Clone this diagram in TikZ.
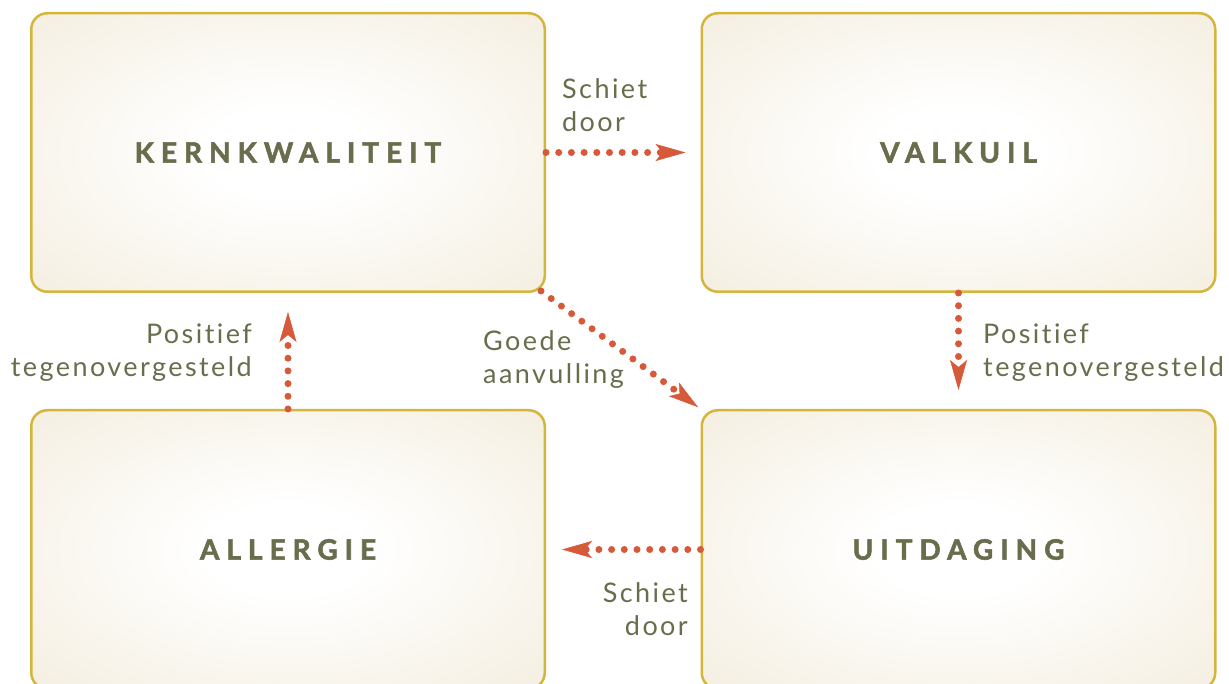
\documentclass[tikz,border=0pt]{standalone}
\usepackage{fontspec}
\setmainfont{Lato}
\newfontfamily\titlefont[LetterSpace=25,FakeBold=2,Ligatures=NoCommon]{Lato}
\newfontfamily\labelfont[LetterSpace=9,Ligatures=NoCommon]{Lato}
\usetikzlibrary{arrows.meta}
\definecolor{bordercol}{HTML}{D4B63C}
\definecolor{fillcol}{HTML}{F3ECDC}
\definecolor{textcol}{HTML}{6A6D4C}
\definecolor{arrowcol}{HTML}{D6593A}
\pgfdeclareradialshading{boxshade}{\pgfpoint{0bp}{0bp}}{color(0bp)=(white); color(8bp)=(white); color(40bp)=(fillcol); color(50bp)=(fillcol)}
\tikzset{
  box/.style={draw=bordercol, line width=2.5pt, rounded corners=16pt, shade, shading=boxshade,
    minimum width=513.5pt, minimum height=278.5pt, inner sep=0pt,
    font=\titlefont\bfseries\fontsize{28}{32}\selectfont, text=textcol},
  lbl/.style={font=\labelfont\fontsize{27}{33}\selectfont, text=textcol, inner sep=0pt},
  conn/.style={draw=arrowcol, line width=7pt, line cap=round, dash pattern=on 0pt off 12.7pt,
    -{Stealth[length=30pt,width=17pt,inset=7pt,line width=0.5pt,fill=arrowcol]}}
}
\begin{document}
\begin{tikzpicture}[x=1pt,y=-1pt]
\useasboundingbox (0,0) rectangle (1229,684);
\node[box] (kq) at (288,152.5) {KERNKWALITEIT};
\node[box] (vk) at (958.5,152.5) {VALKUIL};
\node[box] (al) at (288,549.5) {ALLERGIE};
\node[box] (ud) at (958.5,549.5) {UITDAGING};

\draw[conn, shorten >=15pt] (kq.east) -- (vk.west);
\draw[conn, shorten >=3pt] ([shift={(-5,-2)}]kq.south east) -- (ud.north west);
\draw[conn, shorten >=19pt] (al.north) -- (kq.south);
\draw[conn, shorten >=19pt] (vk.south) -- (ud.north);
\draw[conn, shorten >=16pt] (ud.west) -- (al.east);

\node[lbl, align=left, anchor=north west] (l1) at (562,78) {Schiet\\door};
\node[lbl, align=left, anchor=north west] (l2) at (483,330) {Goede\\aanvulling};
\node[lbl, align=right, anchor=north east] (l3) at (252,324) {Positief\\tegenovergesteld};
\node[lbl, align=left, anchor=north west] (l4) at (983,324) {Positief\\tegenovergesteld};
\node[lbl, align=right, anchor=north east] (l5) at (688,582) {Schiet\\door};
\end{tikzpicture}
\end{document}
